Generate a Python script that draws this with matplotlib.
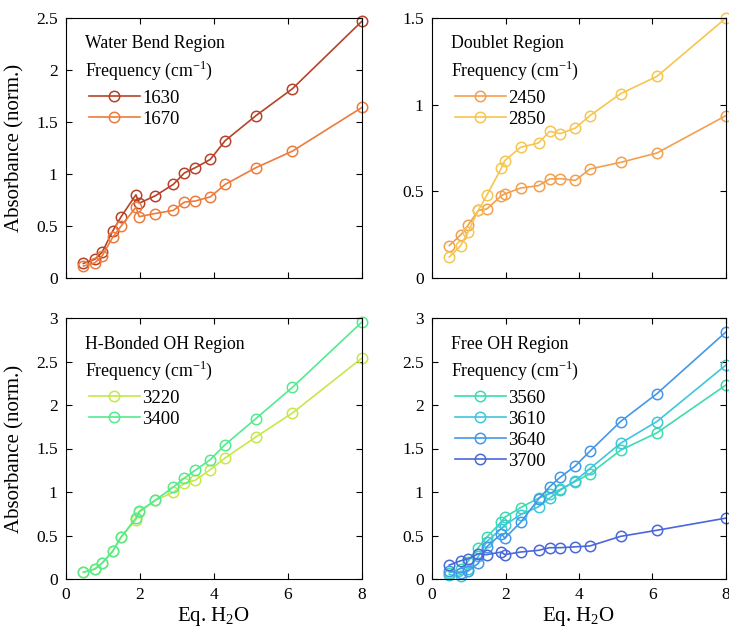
import numpy as np
import matplotlib
matplotlib.use('Agg')
import matplotlib.pyplot as plt
from matplotlib.ticker import FuncFormatter

plt.rcParams['font.family'] = ['Liberation Serif', 'DejaVu Serif']
plt.rcParams['mathtext.fontset'] = 'custom'
plt.rcParams['mathtext.rm'] = 'Liberation Serif'

# 물 당량 (x축)
eq_h2o = [0.47, 0.78, 0.98, 1.26, 1.49, 1.89, 1.98, 2.41, 2.9, 3.2, 3.49, 3.9, 4.3, 5.13, 6.12, 8.0]

# Water bend region
wb_1630 = [0.14, 0.18, 0.25, 0.45, 0.59, 0.80, 0.72, 0.79, 0.90, 1.01, 1.06, 1.14, 1.32, 1.56, 1.82, 2.47]
wb_1670 = [0.115, 0.145, 0.215, 0.39, 0.50, 0.68, 0.59, 0.62, 0.65, 0.73, 0.74, 0.78, 0.90, 1.06, 1.22, 1.64]

# Doublet region
db_2450 = [0.187, 0.248, 0.304, 0.39, 0.398, 0.475, 0.485, 0.519, 0.533, 0.571, 0.573, 0.563, 0.629, 0.667, 0.721, 0.937]
db_2850 = [0.121, 0.187, 0.265, 0.39, 0.477, 0.635, 0.677, 0.754, 0.779, 0.846, 0.833, 0.865, 0.937, 1.063, 1.163, 1.50]

# H-bonded OH region
hb_3220 = [0.077, 0.115, 0.184, 0.318, 0.483, 0.682, 0.766, 0.904, 0.996, 1.103, 1.134, 1.257, 1.391, 1.632, 1.908, 2.54]
hb_3400 = [0.077, 0.115, 0.184, 0.318, 0.483, 0.70, 0.778, 0.904, 1.057, 1.161, 1.249, 1.372, 1.544, 1.843, 2.203, 2.954]

# Free OH region
fo_3560 = [0.07, 0.12, 0.20, 0.36, 0.48, 0.66, 0.71, 0.82, 0.93, 0.98, 1.03, 1.12, 1.21, 1.48, 1.68, 2.23]
fo_3610 = [0.05, 0.03, 0.11, 0.26, 0.43, 0.58, 0.62, 0.74, 0.83, 0.93, 1.02, 1.13, 1.27, 1.56, 1.81, 2.46]
fo_3640 = [0.09, 0.07, 0.09, 0.18, 0.37, 0.52, 0.47, 0.65, 0.92, 1.06, 1.17, 1.30, 1.47, 1.81, 2.13, 2.84]
fo_3700 = [0.16, 0.21, 0.23, 0.29, 0.28, 0.31, 0.28, 0.31, 0.33, 0.36, 0.36, 0.37, 0.38, 0.49, 0.56, 0.70]

panels = [
    ("Water Bend Region", [("1630", wb_1630, '#b5432a'), ("1670", wb_1670, '#ee7b3c')], 2.5),
    ("Doublet Region", [("2450", db_2450, '#f2a04e'), ("2850", db_2850, '#f5c650')], 1.5),
    ("H-Bonded OH Region", [("3220", hb_3220, '#c5e84a'), ("3400", hb_3400, '#55ea8e')], 3.0),
    ("Free OH Region", [("3560", fo_3560, '#3cdcb0'), ("3610", fo_3610, '#40c6dc'),
                        ("3640", fo_3640, '#4398e8'), ("3700", fo_3700, '#4a68d8')], 3.0),
]

W, H = 729, 633
fig = plt.figure(figsize=(W / 100, H / 100), dpi=100)

# 축 위치 (픽셀 기준)
lefts = [66, 432]
widths = [296, 294]
tops = [18, 318]
bottoms = [278, 579]

fmt = FuncFormatter(lambda v, p: '%g' % v)

for i, (title, series, ymax) in enumerate(panels):
    row, col = divmod(i, 2)
    ax = fig.add_axes([lefts[col] / W, 1 - bottoms[row] / H,
                       widths[col] / W, (bottoms[row] - tops[row]) / H])
    for lab, vals, c in series:
        ax.plot(eq_h2o, vals, '-o', color=c, mfc='none', mec=c, ms=7.5,
                mew=1.1, lw=1.2, label=lab, clip_on=False)
    ax.set_xlim(0, 8)
    ax.set_ylim(0, ymax)
    ax.set_xticks([0, 2, 4, 6, 8])
    ax.set_yticks(np.arange(0, ymax + 0.01, 0.5))
    ax.yaxis.set_major_formatter(fmt)
    ax.tick_params(direction='in', top=True, right=True, length=4, labelsize=12.5, pad=6)
    if row == 0:
        ax.tick_params(labelbottom=False)
    else:
        ax.set_xlabel("Eq. H$_{\\mathregular{2}}$O", fontsize=15, labelpad=1)
    if col == 0:
        ax.set_ylabel("Absorbance (norm.)", fontsize=15, labelpad=8)

    ax.text(0.065, 0.9, title, transform=ax.transAxes, fontsize=12.8, va='center')
    ax.text(0.065, 0.8, "Frequency (cm$^{\\mathregular{-1}}$)", transform=ax.transAxes,
            fontsize=12.8, va='center')
    ax.legend(loc='upper left', bbox_to_anchor=(0.078, 0.725), frameon=False,
              fontsize=13.5, handlelength=2.7, handletextpad=0.15, labelspacing=0.2,
              borderaxespad=0, borderpad=0)

fig.savefig('out.png', dpi=100)
